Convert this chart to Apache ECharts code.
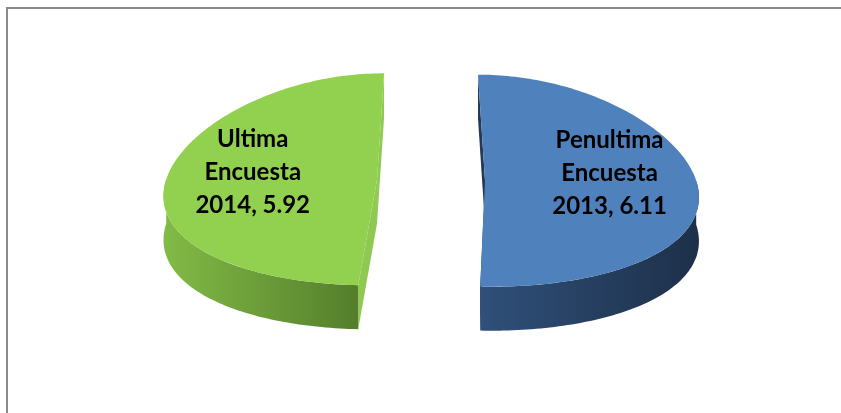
<!DOCTYPE html>
<html>
<head>
<meta charset="utf-8">
<script src="https://cdn.jsdelivr.net/npm/echarts@6/dist/echarts.min.js"></script>
<style>
  html, body { margin: 0; padding: 0; background: #fff; }
  #chart { width: 841px; height: 413px; }
</style>
</head>
<body>
<div id="chart"></div>
<script>
// datos de la grafica
const names = ['Penultima Encuesta', 'Ultima Encuesta'];
const years = ['2013', '2014'];
const values = [6.11, 5.92];

const topColors = ['#4f81bd', '#92d050'];
const sideColors = [['#30507a', '#1d3049'], ['#82bb46', '#547e2b']];
const cutColors = ['#233956', '#8fc952'];

const total = values.reduce((a, b) => a + b, 0);

// geometria del pastel inclinado (con algo de perspectiva)
const C0 = [431, 180];
const rx = 211, ry = 106, depth = 44, explode = 54, persp = 0.13;

function renderItem(params, api) {
  const i = params.dataIndex;
  let start = 0;
  for (let k = 0; k < i; k++) start += values[k];
  const a0 = start / total * Math.PI * 2;
  const a1 = (start + api.value(1)) / total * Math.PI * 2;
  const mid = (a0 + a1) / 2;
  const ox = explode * Math.sin(mid);
  const oy = -explode * Math.cos(mid) * ry / rx;

  // punto en el plano (u = horizontal, v = profundidad) -> pantalla
  const proj = (u, v, dy) => {
    const f = 1 + persp * v / ry;
    return [C0[0] + u * f, C0[1] + v + (dy || 0)];
  };
  const pt = (a, dy) => proj(ox + rx * Math.sin(a), oy - ry * Math.cos(a), dy);
  const ctr = (dy) => proj(ox, oy, dy);

  const arc = (from, to, dy) => {
    const out = [];
    const n = Math.max(2, Math.ceil((to - from) / 0.02));
    for (let s = 0; s <= n; s++) out.push(pt(from + (to - from) * s / n, dy));
    return out;
  };

  const children = [];
  // caras del corte
  [a0, a1].forEach(a => {
    children.push({
      type: 'polygon',
      shape: { points: [ctr(0), pt(a), pt(a, depth), ctr(depth)] },
      style: { fill: cutColors[i] }
    });
  });
  // lado exterior visible
  const s0 = Math.max(a0, Math.PI / 2), s1 = Math.min(a1, Math.PI * 1.5);
  if (s1 > s0) {
    const topArc = arc(s0, s1, 0);
    const botArc = arc(s0, s1, depth).reverse();
    children.push({
      type: 'polygon',
      shape: { points: topArc.concat(botArc) },
      style: {
        fill: new echarts.graphic.LinearGradient(0, 0, 1, 0, [
          { offset: 0, color: sideColors[i][0] },
          { offset: 1, color: sideColors[i][1] }
        ])
      }
    });
  }
  // cara superior
  children.push({
    type: 'polygon',
    shape: { points: [ctr(0)].concat(arc(a0, a1, 0)) },
    style: { fill: topColors[i] }
  });
  // etiqueta
  const lp = proj(ox + 126 * Math.sin(mid), oy - 7, 0);
  children.push({
    type: 'text',
    x: lp[0],
    y: lp[1],
    style: {
      text: names[i].split(' ').join('\n') + '\n' + years[i] + ', ' + values[i].toFixed(2),
      fill: '#000',
      font: 'bold 24px Lato',
      lineHeight: 33,
      align: 'center',
      verticalAlign: 'middle'
    }
  });
  return { type: 'group', children: children };
}

const myChart = echarts.init(document.getElementById('chart'));
myChart.setOption({
  animation: false,
  graphic: [{
    type: 'rect',
    shape: { x: 7, y: 8, width: 900, height: 500 },
    style: { fill: 'none', stroke: '#8a8a8a', lineWidth: 2 },
    z: 0
  }],
  series: [{
    type: 'custom',
    coordinateSystem: 'none',
    renderItem: renderItem,
    data: values.map((v, i) => [i, v])
  }]
});
</script>
</body>
</html>
